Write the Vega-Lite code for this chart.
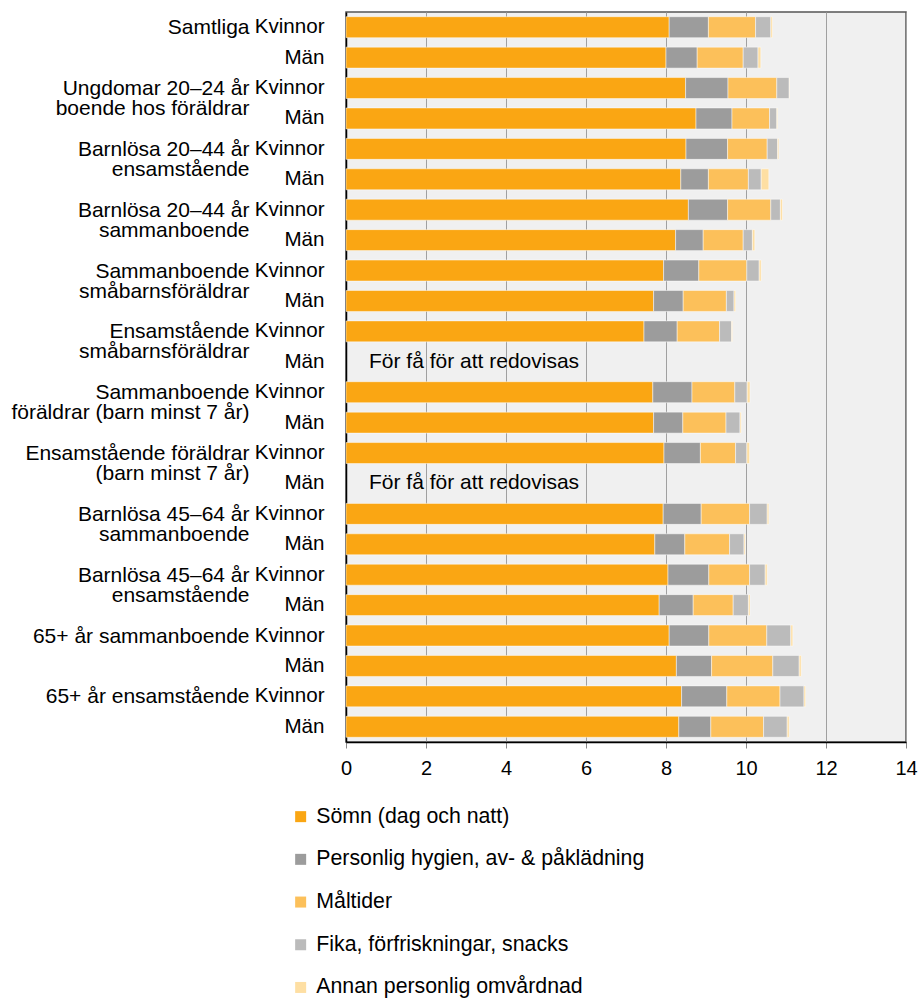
{
  "$schema": "https://vega.github.io/schema/vega-lite/v6.json",
  "autosize": "none",
  "padding": {"left": 346, "top": 12, "right": 15, "bottom": 257},
  "width": 560,
  "height": 730,
  "config": {
    "font": "Liberation Sans",
    "view": {"stroke": "#555555", "strokeWidth": 1.5, "fill": "#f0f0f0"}
  },
  "datasets": {
    "tider": [
      {"rad": "Samtliga|Kvinnor", "Sömn (dag och natt)": 8.08, "Personlig hygien, av- & påklädning": 0.98, "Måltider": 1.18, "Fika, förfriskningar, snacks": 0.38, "Annan personlig omvårdnad": 0.04},
      {"rad": "Samtliga|Män", "Sömn (dag och natt)": 8.0, "Personlig hygien, av- & påklädning": 0.78, "Måltider": 1.15, "Fika, förfriskningar, snacks": 0.37, "Annan personlig omvårdnad": 0.07},
      {"rad": "Ungdomar 20–24 år/boende hos föräldrar|Kvinnor", "Sömn (dag och natt)": 8.49, "Personlig hygien, av- & påklädning": 1.06, "Måltider": 1.22, "Fika, förfriskningar, snacks": 0.31, "Annan personlig omvårdnad": 0.01},
      {"rad": "Ungdomar 20–24 år/boende hos föräldrar|Män", "Sömn (dag och natt)": 8.75, "Personlig hygien, av- & påklädning": 0.9, "Måltider": 0.94, "Fika, förfriskningar, snacks": 0.18, "Annan personlig omvårdnad": 0.02},
      {"rad": "Barnlösa 20–44 år/ensamstående|Kvinnor", "Sömn (dag och natt)": 8.5, "Personlig hygien, av- & påklädning": 1.04, "Måltider": 0.99, "Fika, förfriskningar, snacks": 0.26, "Annan personlig omvårdnad": 0.03},
      {"rad": "Barnlösa 20–44 år/ensamstående|Män", "Sömn (dag och natt)": 8.37, "Personlig hygien, av- & påklädning": 0.69, "Måltider": 1.0, "Fika, förfriskningar, snacks": 0.32, "Annan personlig omvårdnad": 0.19},
      {"rad": "Barnlösa 20–44 år/sammanboende|Kvinnor", "Sömn (dag och natt)": 8.56, "Personlig hygien, av- & påklädning": 0.98, "Måltider": 1.08, "Fika, förfriskningar, snacks": 0.24, "Annan personlig omvårdnad": 0.05},
      {"rad": "Barnlösa 20–44 år/sammanboende|Män", "Sömn (dag och natt)": 8.24, "Personlig hygien, av- & påklädning": 0.69, "Måltider": 1.0, "Fika, förfriskningar, snacks": 0.23, "Annan personlig omvårdnad": 0.06},
      {"rad": "Sammanboende/småbarnsföräldrar|Kvinnor", "Sömn (dag och natt)": 7.94, "Personlig hygien, av- & påklädning": 0.88, "Måltider": 1.2, "Fika, förfriskningar, snacks": 0.31, "Annan personlig omvårdnad": 0.05},
      {"rad": "Sammanboende/småbarnsföräldrar|Män", "Sömn (dag och natt)": 7.69, "Personlig hygien, av- & påklädning": 0.74, "Måltider": 1.08, "Fika, förfriskningar, snacks": 0.19, "Annan personlig omvårdnad": 0.04},
      {"rad": "Ensamstående/småbarnsföräldrar|Kvinnor", "Sömn (dag och natt)": 7.45, "Personlig hygien, av- & påklädning": 0.83, "Måltider": 1.06, "Fika, förfriskningar, snacks": 0.3, "Annan personlig omvårdnad": 0.02},
      {"rad": "Sammanboende/föräldrar (barn minst 7 år)|Kvinnor", "Sömn (dag och natt)": 7.67, "Personlig hygien, av- & påklädning": 0.98, "Måltider": 1.07, "Fika, förfriskningar, snacks": 0.31, "Annan personlig omvårdnad": 0.07},
      {"rad": "Sammanboende/föräldrar (barn minst 7 år)|Män", "Sömn (dag och natt)": 7.69, "Personlig hygien, av- & påklädning": 0.73, "Måltider": 1.08, "Fika, förfriskningar, snacks": 0.35, "Annan personlig omvårdnad": 0.03},
      {"rad": "Ensamstående föräldrar/(barn minst 7 år)|Kvinnor", "Sömn (dag och natt)": 7.95, "Personlig hygien, av- & påklädning": 0.91, "Måltider": 0.88, "Fika, förfriskningar, snacks": 0.28, "Annan personlig omvårdnad": 0.07},
      {"rad": "Barnlösa 45–64 år/sammanboende|Kvinnor", "Sömn (dag och natt)": 7.93, "Personlig hygien, av- & påklädning": 0.95, "Måltider": 1.21, "Fika, förfriskningar, snacks": 0.44, "Annan personlig omvårdnad": 0.04},
      {"rad": "Barnlösa 45–64 år/sammanboende|Män", "Sömn (dag och natt)": 7.72, "Personlig hygien, av- & påklädning": 0.75, "Måltider": 1.12, "Fika, förfriskningar, snacks": 0.36, "Annan personlig omvårdnad": 0.03},
      {"rad": "Barnlösa 45–64 år/ensamstående|Kvinnor", "Sömn (dag och natt)": 8.05, "Personlig hygien, av- & påklädning": 1.02, "Måltider": 1.02, "Fika, förfriskningar, snacks": 0.39, "Annan personlig omvårdnad": 0.05},
      {"rad": "Barnlösa 45–64 år/ensamstående|Män", "Sömn (dag och natt)": 7.83, "Personlig hygien, av- & påklädning": 0.85, "Måltider": 1.0, "Fika, förfriskningar, snacks": 0.38, "Annan personlig omvårdnad": 0.04},
      {"rad": "65+ år sammanboende|Kvinnor", "Sömn (dag och natt)": 8.08, "Personlig hygien, av- & påklädning": 0.99, "Måltider": 1.45, "Fika, förfriskningar, snacks": 0.6, "Annan personlig omvårdnad": 0.05},
      {"rad": "65+ år sammanboende|Män", "Sömn (dag och natt)": 8.26, "Personlig hygien, av- & påklädning": 0.88, "Måltider": 1.53, "Fika, förfriskningar, snacks": 0.66, "Annan personlig omvårdnad": 0.05},
      {"rad": "65+ år ensamstående|Kvinnor", "Sömn (dag och natt)": 8.39, "Personlig hygien, av- & påklädning": 1.13, "Måltider": 1.33, "Fika, förfriskningar, snacks": 0.6, "Annan personlig omvårdnad": 0.04},
      {"rad": "65+ år ensamstående|Män", "Sömn (dag och natt)": 8.32, "Personlig hygien, av- & påklädning": 0.8, "Måltider": 1.32, "Fika, förfriskningar, snacks": 0.59, "Annan personlig omvårdnad": 0.05}
    ],
    "noter": [
      {"rad": "Ensamstående/småbarnsföräldrar|Män", "not": "För få för att redovisas"},
      {"rad": "Ensamstående föräldrar/(barn minst 7 år)|Män", "not": "För få för att redovisas"}
    ]
  },
  "layer": [
    {
      "data": {"name": "tider"},
      "transform": [
        {"fold": ["Sömn (dag och natt)", "Personlig hygien, av- & påklädning", "Måltider", "Fika, förfriskningar, snacks", "Annan personlig omvårdnad"], "as": ["aktivitet", "timmar"]},
        {"window": [{"op": "row_number", "as": "ordning"}], "groupby": ["rad"]}
      ],
      "mark": {"type": "bar", "stroke": "#ffffff", "strokeWidth": 0.8, "strokeOpacity": 0.6},
      "encoding": {
        "y": {
          "field": "rad", "type": "nominal",
          "scale": {
            "domain": [
              "Samtliga|Kvinnor", "Samtliga|Män",
              "Ungdomar 20–24 år/boende hos föräldrar|Kvinnor", "Ungdomar 20–24 år/boende hos föräldrar|Män",
              "Barnlösa 20–44 år/ensamstående|Kvinnor", "Barnlösa 20–44 år/ensamstående|Män",
              "Barnlösa 20–44 år/sammanboende|Kvinnor", "Barnlösa 20–44 år/sammanboende|Män",
              "Sammanboende/småbarnsföräldrar|Kvinnor", "Sammanboende/småbarnsföräldrar|Män",
              "Ensamstående/småbarnsföräldrar|Kvinnor", "Ensamstående/småbarnsföräldrar|Män",
              "Sammanboende/föräldrar (barn minst 7 år)|Kvinnor", "Sammanboende/föräldrar (barn minst 7 år)|Män",
              "Ensamstående föräldrar/(barn minst 7 år)|Kvinnor", "Ensamstående föräldrar/(barn minst 7 år)|Män",
              "Barnlösa 45–64 år/sammanboende|Kvinnor", "Barnlösa 45–64 år/sammanboende|Män",
              "Barnlösa 45–64 år/ensamstående|Kvinnor", "Barnlösa 45–64 år/ensamstående|Män",
              "65+ år sammanboende|Kvinnor", "65+ år sammanboende|Män",
              "65+ år ensamstående|Kvinnor", "65+ år ensamstående|Män"
            ],
            "paddingInner": 0.31, "paddingOuter": 0.155
          },
          "axis": {
            "title": null, "orient": "left", "labelExpr": "split(datum.value, '|')[1]",
            "labelFontSize": 20.6, "labelColor": "#000000", "labelPadding": 22, "labelLimit": 400,
            "labelOverlap": false, "labelBound": false,
            "ticks": false, "domain": true, "domainColor": "#000000", "domainWidth": 1.5, "grid": false
          }
        },
        "x": {
          "field": "timmar", "type": "quantitative", "stack": "zero",
          "scale": {"domain": [0, 14], "nice": false},
          "axis": {
            "title": null, "values": [0, 2, 4, 6, 8, 10, 12, 14],
            "labelFontSize": 20, "labelColor": "#000000", "labelPadding": 10, "labelFlush": false,
            "tickSize": 6, "tickColor": "#888888", "domainColor": "#000000", "domainWidth": 1.5,
            "grid": true, "gridColor": "#a0a0a0", "gridWidth": 1
          }
        },
        "order": {"field": "ordning", "type": "quantitative", "sort": "ascending"},
        "color": {
          "field": "aktivitet", "type": "nominal",
          "scale": {
            "domain": ["Sömn (dag och natt)", "Personlig hygien, av- & påklädning", "Måltider", "Fika, förfriskningar, snacks", "Annan personlig omvårdnad"],
            "range": ["#faa613", "#9c9c9c", "#fcc05a", "#bbbbbb", "#fedfa3"]
          },
          "legend": {
            "title": null, "orient": "none", "legendX": -56, "legendY": 794, "direction": "vertical",
            "symbolType": "square", "symbolSize": 121, "symbolStrokeWidth": 0, "symbolOpacity": 1,
            "labelFontSize": 21.3, "labelColor": "#000000", "labelOffset": 5, "rowPadding": 20.7, "labelLimit": 500
          }
        }
      }
    },
    {
      "data": {"name": "noter"},
      "mark": {"type": "text", "align": "left", "baseline": "middle", "dx": 23, "fontSize": 21, "color": "#000000"},
      "encoding": {
        "y": {
          "field": "rad", "type": "nominal",
          "axis": {
            "title": null, "orient": "left", "offset": 89,
            "labelExpr": "split(datum.value, '|')[1] == 'Kvinnor' ? split(split(datum.value, '|')[0], '/') : ''",
            "labelFontSize": 21, "labelColor": "#000000", "labelPadding": 8, "labelLimit": 400,
            "labelBaseline": "top", "labelOffset": -10, "labelLineHeight": 20,
            "labelOverlap": false, "labelBound": false,
            "ticks": false, "domain": false, "grid": false
          }
        },
        "x": {"datum": 0},
        "text": {"field": "not"}
      }
    }
  ],
  "resolve": {"axis": {"y": "independent"}}
}
